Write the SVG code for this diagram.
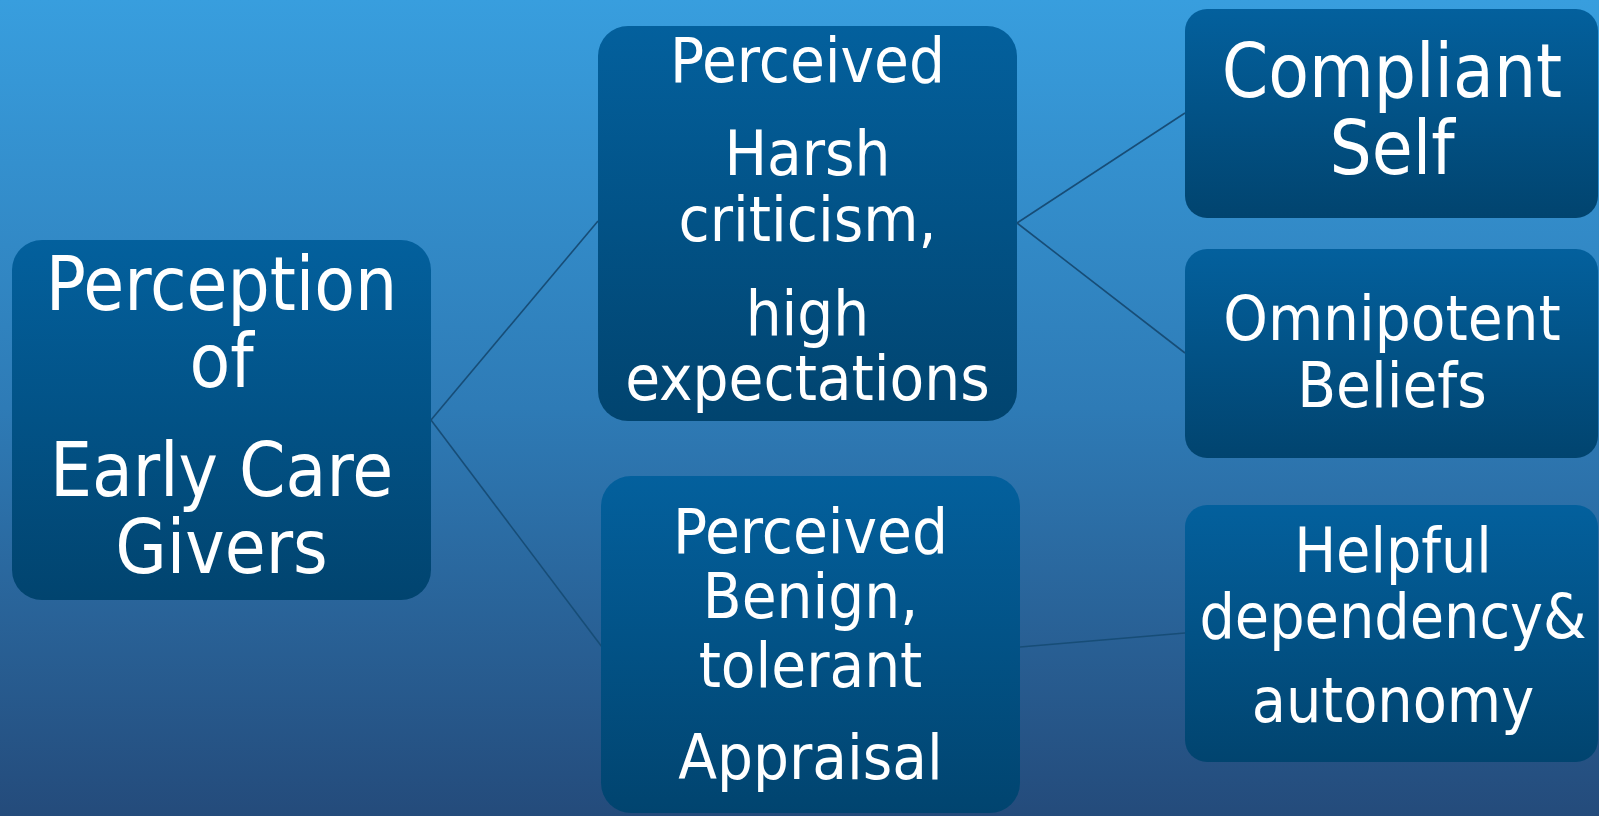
<svg xmlns="http://www.w3.org/2000/svg" width="1599" height="816" viewBox="0 0 1599 816">
  <defs>
    <linearGradient id="bg" x1="0" y1="0" x2="0" y2="1">
      <stop offset="0" stop-color="#389ede"/>
      <stop offset="0.5" stop-color="#2e7bb6"/>
      <stop offset="1" stop-color="#244b7b"/>
    </linearGradient>
    <linearGradient id="box" x1="0" y1="0" x2="0" y2="1">
      <stop offset="0" stop-color="#03609d"/>
      <stop offset="1" stop-color="#01446f"/>
    </linearGradient>
    <style>
      .node { fill: url(#box); }
      .label { fill: #ffffff; font-family: "DejaVu Sans Condensed", "DejaVu Sans", sans-serif; font-stretch: condensed; text-anchor: middle; }
      .link { stroke: #174d77; stroke-width: 1.6; fill: none; }
    </style>
  </defs>

  <rect x="0" y="0" width="1599" height="816" fill="url(#bg)"/>

  <!-- connectors -->
  <g id="connectors">
    <line class="link" x1="431" y1="420" x2="598" y2="221"/>
    <line class="link" x1="431" y1="420" x2="602" y2="647"/>
    <line class="link" x1="1017" y1="223" x2="1185" y2="113"/>
    <line class="link" x1="1017" y1="223" x2="1185" y2="353"/>
    <line class="link" x1="1020" y1="647" x2="1185" y2="633"/>
  </g>

  <g id="node-early-care">
    <rect class="node" x="12" y="240" width="419" height="360" rx="30"/>
    <text class="label" font-size="74" x="221.5" y="310">Perception</text>
    <text class="label" font-size="74" x="221.5" y="387">of</text>
    <text class="label" font-size="74" x="221.5" y="496">Early Care</text>
    <text class="label" font-size="74" x="221.5" y="573">Givers</text>
  </g>

  <g id="node-harsh">
    <rect class="node" x="598" y="26" width="419" height="395" rx="30"/>
    <text class="label" font-size="63" x="807.5" y="82">Perceived</text>
    <text class="label" font-size="63" x="807.5" y="175">Harsh</text>
    <text class="label" font-size="63" x="807.5" y="241">criticism,</text>
    <text class="label" font-size="63" x="807.5" y="335">high</text>
    <text class="label" font-size="63" x="807.5" y="400">expectations</text>
  </g>

  <g id="node-benign">
    <rect class="node" x="601" y="476" width="419" height="337" rx="30"/>
    <text class="label" font-size="63" x="810.5" y="553">Perceived</text>
    <text class="label" font-size="63" x="810.5" y="618">Benign,</text>
    <text class="label" font-size="63" x="810.5" y="687">tolerant</text>
    <text class="label" font-size="63" x="810.5" y="779">Appraisal</text>
  </g>

  <g id="node-compliant">
    <rect class="node" x="1185" y="9" width="413" height="209" rx="22"/>
    <text class="label" font-size="74" x="1392" y="97">Compliant</text>
    <text class="label" font-size="74" x="1392" y="174">Self</text>
  </g>

  <g id="node-omnipotent">
    <rect class="node" x="1185" y="249" width="413" height="209" rx="22"/>
    <text class="label" font-size="63" x="1392" y="340">Omnipotent</text>
    <text class="label" font-size="63" x="1392" y="407">Beliefs</text>
  </g>

  <g id="node-helpful">
    <rect class="node" x="1185" y="505" width="413" height="257" rx="22"/>
    <text class="label" font-size="62" x="1393" y="572">Helpful</text>
    <text class="label" font-size="62" x="1393" y="638">dependency&amp;</text>
    <text class="label" font-size="62" x="1393" y="722">autonomy</text>
  </g>
</svg>
